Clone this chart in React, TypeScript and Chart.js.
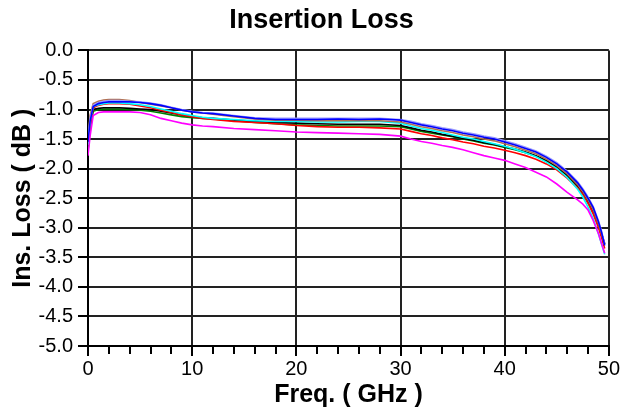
import React, { useEffect, useRef } from "react";
import { Chart, registerables } from "chart.js";

Chart.register(...registerables);

const FREQ = [0, 0.2, 0.5, 1, 1.5, 2, 3, 4, 5, 6, 7, 8, 9, 10, 11, 12, 14, 16, 18, 20, 22, 24, 26, 28, 30, 31, 32, 33, 34, 35, 36, 37, 38, 39, 40, 41, 42, 43, 44, 45, 46, 47, 47.5, 48, 48.5, 49, 49.3, 49.6];

const BLUE = [-1.55, -1.2, -0.95, -0.9, -0.88, -0.87, -0.87, -0.87, -0.88, -0.9, -0.93, -0.97, -1.01, -1.04, -1.06, -1.07, -1.11, -1.15, -1.17, -1.17, -1.17, -1.16, -1.17, -1.16, -1.18, -1.22, -1.26, -1.29, -1.33, -1.36, -1.4, -1.43, -1.47, -1.5, -1.55, -1.6, -1.66, -1.72, -1.81, -1.92, -2.06, -2.24, -2.36, -2.5, -2.66, -2.9, -3.08, -3.3];
const LAVENDER = [-1.5, -1.15, -0.93, -0.88, -0.86, -0.85, -0.85, -0.86, -0.87, -0.89, -0.92, -0.96, -1.0, -1.03, -1.05, -1.06, -1.1, -1.14, -1.15, -1.15, -1.15, -1.15, -1.15, -1.15, -1.17, -1.2, -1.24, -1.27, -1.31, -1.34, -1.38, -1.41, -1.45, -1.48, -1.53, -1.58, -1.64, -1.7, -1.79, -1.9, -2.04, -2.22, -2.34, -2.48, -2.64, -2.88, -3.06, -3.28];
const BROWN = [-1.5, -1.1, -0.9, -0.86, -0.84, -0.83, -0.83, -0.85, -0.88, -0.91, -0.94, -0.97, -1.01, -1.04, -1.06, -1.08, -1.12, -1.16, -1.18, -1.18, -1.19, -1.19, -1.19, -1.19, -1.21, -1.25, -1.29, -1.32, -1.36, -1.39, -1.43, -1.46, -1.5, -1.53, -1.58, -1.63, -1.69, -1.75, -1.84, -1.95, -2.09, -2.27, -2.39, -2.53, -2.7, -2.93, -3.1, -3.27];
const CYAN = [-1.6, -1.2, -0.95, -0.92, -0.9, -0.89, -0.89, -0.9, -0.92, -0.95, -0.99, -1.03, -1.07, -1.1, -1.13, -1.15, -1.17, -1.19, -1.2, -1.2, -1.21, -1.21, -1.2, -1.2, -1.23, -1.28, -1.32, -1.35, -1.39, -1.43, -1.47, -1.5, -1.54, -1.58, -1.62, -1.67, -1.73, -1.8, -1.89, -2.0, -2.15, -2.35, -2.48, -2.65, -2.85, -3.1, -3.28, -3.45];
const RED = [-1.6, -1.25, -0.97, -0.93, -0.91, -0.9, -0.9, -0.91, -0.94, -0.97, -1.01, -1.05, -1.09, -1.12, -1.15, -1.17, -1.2, -1.22, -1.24, -1.27, -1.29, -1.3, -1.3, -1.31, -1.33, -1.37, -1.41, -1.44, -1.48, -1.51, -1.55, -1.58, -1.62, -1.65, -1.69, -1.73, -1.78, -1.84, -1.92, -2.02, -2.16, -2.33, -2.44, -2.59, -2.77, -3.0, -3.17, -3.35];
const BLACK = [-1.5, -1.2, -1.0, -0.98, -0.97, -0.97, -0.97, -0.98, -0.99, -1.0, -1.03, -1.06, -1.09, -1.12, -1.14, -1.15, -1.18, -1.2, -1.22, -1.23, -1.24, -1.25, -1.25, -1.25, -1.27, -1.31, -1.35, -1.38, -1.42, -1.45, -1.49, -1.52, -1.56, -1.59, -1.63, -1.67, -1.72, -1.78, -1.86, -1.97, -2.11, -2.29, -2.41, -2.55, -2.72, -2.95, -3.1, -3.27];
const GREEN = [-1.7, -1.35, -1.03, -1.0, -0.99, -0.99, -0.99, -1.0, -1.01, -1.03, -1.06, -1.09, -1.12, -1.14, -1.15, -1.16, -1.19, -1.22, -1.24, -1.26, -1.27, -1.28, -1.28, -1.28, -1.29, -1.33, -1.37, -1.4, -1.43, -1.46, -1.5, -1.53, -1.57, -1.6, -1.64, -1.68, -1.73, -1.79, -1.87, -1.98, -2.12, -2.3, -2.42, -2.56, -2.73, -2.96, -3.12, -3.28];
const MAGENTA = [-1.78, -1.45, -1.1, -1.05, -1.04, -1.04, -1.04, -1.04, -1.05, -1.09, -1.15, -1.19, -1.23, -1.26, -1.28, -1.29, -1.32, -1.34, -1.36, -1.38, -1.39, -1.4, -1.41, -1.42, -1.45, -1.5, -1.54, -1.57, -1.61, -1.64, -1.68, -1.73, -1.78, -1.82, -1.86, -1.92, -1.98, -2.06, -2.14, -2.26, -2.4, -2.53, -2.6, -2.7, -2.88, -3.1, -3.27, -3.43];

const SERIES_NAMES = ["Magenta", "Blue", "Lavender", "Brown", "Cyan", "Red", "Black", "Green"];
const SERIES_VALUES = [MAGENTA, BLUE, LAVENDER, BROWN, CYAN, RED, BLACK, GREEN];
const SERIES_COLORS = ["#FF00FF", "#0000FF", "#9A9AFF", "#B07050", "#00FFFF", "#FF0000", "#000000", "#008000"];

const TITLE = "Insertion Loss";
const X_TITLE = "Freq. ( GHz )";
const Y_TITLE = "Ins. Loss ( dB )";

const X_MIN = 0;
const X_MAX = 50;
const X_MINOR_STEP = 2;
const X_MAJOR_STEP = 10;
const Y_MIN = -5;
const Y_MAX = 0;
const Y_STEP = 0.5;

const FONT = "'Liberation Sans', Arial, Helvetica, sans-serif";

const isMajor = (v: number) => Math.abs(v / X_MAJOR_STEP - Math.round(v / X_MAJOR_STEP)) < 1e-6;

export default function App() {
  const ref = useRef<HTMLCanvasElement | null>(null);

  useEffect(() => {
    document.body.style.margin = "0";
    const canvas = ref.current;
    if (!canvas) return;
    const chart = new Chart(canvas, {
      type: "line",
      data: {
        datasets: SERIES_VALUES.map((vals, i) => ({
          label: SERIES_NAMES[i],
          data: FREQ.map((f, j) => ({ x: f, y: vals[j] })),
          borderColor: SERIES_COLORS[i],
          backgroundColor: SERIES_COLORS[i],
          borderWidth: 1.6,
          pointRadius: 0,
          tension: 0,
          fill: false,
        })),
      },
      options: {
        responsive: false,
        animation: false,
        devicePixelRatio: 1,
        layout: { padding: { left: 34, right: 12, top: 0, bottom: 0 } },
        plugins: {
          legend: { display: false },
          tooltip: { enabled: false },
          title: {
            display: true,
            text: TITLE,
            color: "#000",
            font: { family: FONT, size: 27, weight: "bold" },
            padding: { top: 4, bottom: 14 },
          },
        },
        scales: {
          x: {
            type: "linear",
            position: "bottom",
            min: X_MIN,
            max: X_MAX,
            ticks: {
              stepSize: X_MINOR_STEP,
              autoSkip: false,
              color: "#000",
              font: { family: FONT, size: 20 },
              padding: 1,
              maxRotation: 0,
              callback: (v: any) => (isMajor(Number(v)) ? String(v) : ""),
            },
            grid: {
              color: (ctx: any) => (ctx.tick && isMajor(ctx.tick.value) ? "#222" : "rgba(0,0,0,0)"),
              lineWidth: 2,
              tickLength: 10,
              tickColor: "#000",
              tickWidth: 2,
              tickBorderDash: (ctx: any) => (ctx.tick && isMajor(ctx.tick.value) ? [] : [7, 30]),
            },
            border: { color: "#000", width: 2 },
            title: {
              display: true,
              text: X_TITLE,
              color: "#000",
              font: { family: FONT, size: 25, weight: "bold" },
              padding: { top: 0, bottom: 2 },
            },
            afterFit: (scale: any) => {
              scale.height = 66;
            },
          },
          y: {
            type: "linear",
            min: Y_MIN,
            max: Y_MAX,
            ticks: {
              stepSize: Y_STEP,
              color: "#000",
              font: { family: FONT, size: 20 },
              padding: 5,
              callback: (v: any) => Number(v).toFixed(1),
            },
            grid: { color: "#222", lineWidth: 2, tickLength: 10, tickColor: "#000" },
            border: { color: "#000", width: 2 },
            title: {
              display: true,
              text: Y_TITLE,
              color: "#000",
              font: { family: FONT, size: 25, weight: "bold" },
              padding: { top: -26, bottom: 0 },
            },
            afterFit: (scale: any) => {
              scale.width = 54;
            },
          },
        },
      },
    });
    return () => chart.destroy();
  }, []);

  return (
    <div style={{ position: "absolute", left: 0, top: 0, width: 621, height: 412, background: "#fff" }}>
      <canvas ref={ref} width={621} height={412} style={{ display: "block" }} />
    </div>
  );
}
